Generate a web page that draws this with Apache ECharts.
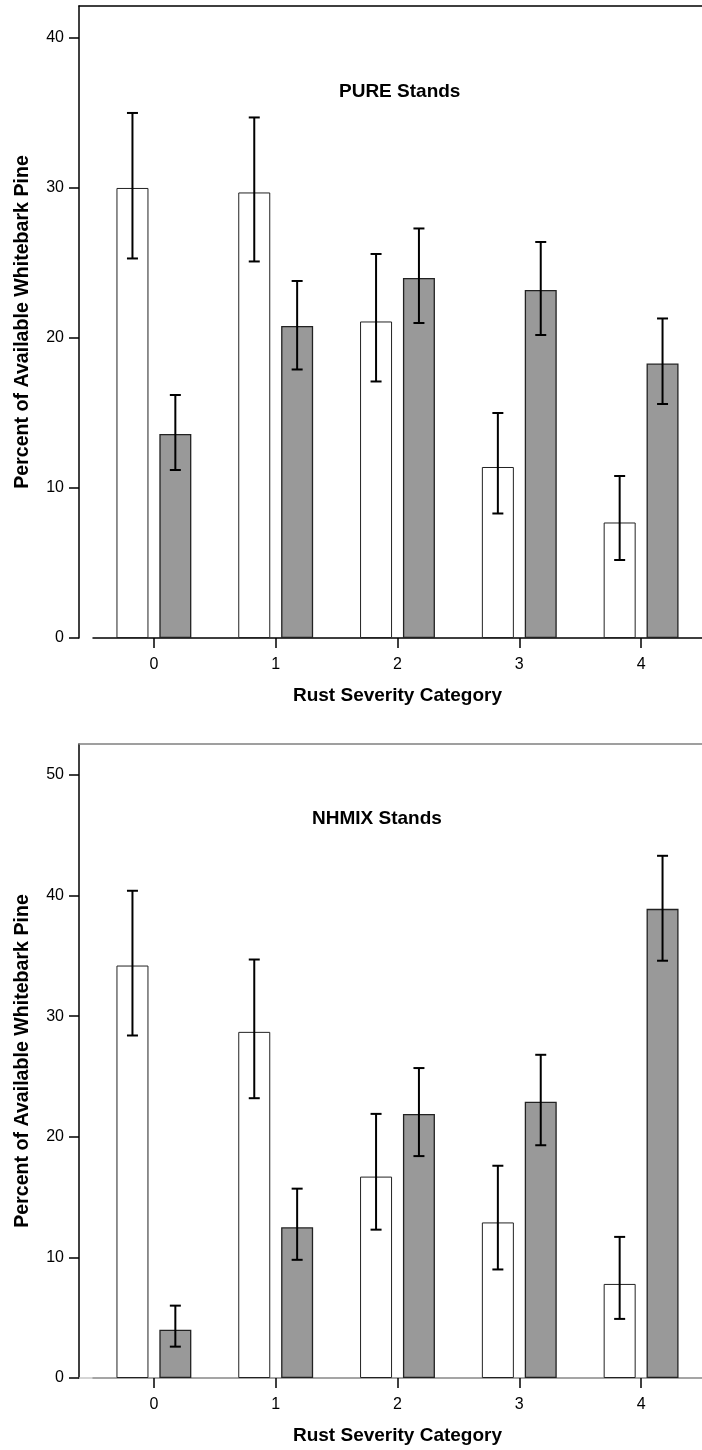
<!DOCTYPE html>
<html><head><meta charset="utf-8">
<script src="https://cdn.jsdelivr.net/npm/echarts@6/dist/echarts.min.js"></script>
<style>html,body{margin:0;padding:0;background:#fff}#c{width:702px;height:1450px}</style>
</head><body><div id="c"></div>
<script>
// ---- data ----
const categories = ['0', '1', '2', '3', '4'];
const yTicksPure = [0, 10, 20, 30, 40];
const yTicksNhmix = [0, 10, 20, 30, 40, 50];

const pureOpen       = [30.0, 29.7, 21.1, 11.4, 7.7];
const pureOpenLow    = [25.3, 25.1, 17.1, 8.3, 5.2];
const pureOpenHigh   = [35.0, 34.7, 25.6, 15.0, 10.8];
const pureShaded     = [13.6, 20.8, 24.0, 23.2, 18.3];
const pureShadedLow  = [11.2, 17.9, 21.0, 20.2, 15.6];
const pureShadedHigh = [16.2, 23.8, 27.3, 26.4, 21.3];

const nhmixOpen       = [34.2, 28.7, 16.7, 12.9, 7.8];
const nhmixOpenLow    = [28.4, 23.2, 12.3, 9.0, 4.9];
const nhmixOpenHigh   = [40.4, 34.7, 21.9, 17.6, 11.7];
const nhmixShaded     = [4.0, 12.5, 21.9, 22.9, 38.9];
const nhmixShadedLow  = [2.6, 9.8, 18.4, 19.3, 34.6];
const nhmixShadedHigh = [6.0, 15.7, 25.7, 26.8, 43.3];

// ---- styling ----
const REG = "'Liberation Sans',Arial,sans-serif";
const BAR_W = 32, BAR_GAP = 0.34;
const TITLE_STYLE = {fontFamily: REG, fontWeight: 'bold', fontSize: 19, color: '#000'};
const YNAME_STYLE = {fontFamily: REG, fontWeight: 'bold', fontSize: 19.6, color: '#000'};

function errSeries(ai, low, high, side) {
  return {
    type: 'custom', xAxisIndex: ai, yAxisIndex: ai, z: 10, silent: true,
    data: low.map((l, i) => [i, l, high[i]]),
    renderItem(params, api) {
      const off = side * BAR_W * (1 + BAR_GAP) / 2;
      const p1 = api.coord([api.value(0), api.value(1)]);
      const p2 = api.coord([api.value(0), api.value(2)]);
      const x = p1[0] + off, cw = 5.5;
      const style = {stroke: '#000', lineWidth: 2};
      return {type: 'group', children: [
        {type: 'line', shape: {x1: x, y1: p1[1], x2: x, y2: p2[1]}, style},
        {type: 'line', shape: {x1: x - cw, y1: p1[1], x2: x + cw, y2: p1[1]}, style},
        {type: 'line', shape: {x1: x - cw, y1: p2[1], x2: x + cw, y2: p2[1]}, style}
      ]};
    }
  };
}
function bars(ai, data, fill, bw) {
  return {type: 'bar', xAxisIndex: ai, yAxisIndex: ai, data, barWidth: BAR_W, barGap: (BAR_GAP * 100) + '%',
    itemStyle: {color: fill, borderColor: '#222', borderWidth: bw}, silent: true};
}
function frameY(gi, max, ticks) {
  return {type: 'value', gridIndex: gi, min: 0, max: max,
    name: 'Percent of Available Whitebark Pine', nameLocation: 'middle', nameGap: 46,
    nameTextStyle: YNAME_STYLE,
    axisLine: {show: true, lineStyle: {color: '#000', width: 1.5}},
    axisTick: {show: true, inside: false, length: 10, customValues: ticks, lineStyle: {color: '#000', width: 1.5}},
    axisLabel: {customValues: ticks, margin: 15, fontFamily: REG, fontSize: 16, color: '#000'},
    splitLine: {show: false}};
}
function dataY(gi, max) {
  return {type: 'value', gridIndex: gi, min: 0, max: max, show: false, splitLine: {show: false}};
}
function catX(gi) {
  return {type: 'category', gridIndex: gi, data: categories,
    name: 'Rust Severity Category', nameLocation: 'middle', nameGap: 48, nameTextStyle: TITLE_STYLE,
    axisLine: {show: true, lineStyle: {color: '#000', width: 1.5}},
    axisTick: {show: true, alignWithLabel: true, length: 10, lineStyle: {color: '#000', width: 1.5}},
    axisLabel: {margin: 19, fontFamily: REG, fontSize: 16, color: '#000'}};
}
function frameX(gi, pos, color) {
  return {type: 'value', gridIndex: gi, position: pos, min: 0, max: 1,
    axisLine: {show: true, onZero: false, lineStyle: {color, width: 1.5}},
    axisTick: {show: false}, axisLabel: {show: false}, splitLine: {show: false}};
}

const PURE_MAX = 42.13, NHMIX_MAX = 52.57;
const chart = echarts.init(document.getElementById('c'), null, {renderer: 'canvas'});
chart.setOption({
  animation: false,
  backgroundColor: '#fff',
  title: [
    {text: 'PURE Stands', left: 339, top: 82, padding: 0, textStyle: TITLE_STYLE},
    {text: 'NHMIX Stands', left: 312, top: 809, padding: 0, textStyle: TITLE_STYLE}
  ],
  grid: [
    {left: 79, right: 0, top: 6, height: 632},
    {left: 93, right: 0, top: 6, height: 632},
    {left: 79, right: 0, top: 744, height: 634},
    {left: 93, right: 0, top: 744, height: 634}
  ],
  xAxis: [frameX(0, 'top', '#000'), catX(1), frameX(2, 'top', '#808080'), catX(3), frameX(2, 'bottom', '#c8c8c8')],
  yAxis: [frameY(0, PURE_MAX, yTicksPure), dataY(1, PURE_MAX), frameY(2, NHMIX_MAX, yTicksNhmix), dataY(3, NHMIX_MAX)],
  series: [
    bars(1, pureOpen, '#ffffff', 1), bars(1, pureShaded, '#999999', 1.3),
    errSeries(1, pureOpenLow, pureOpenHigh, -1), errSeries(1, pureShadedLow, pureShadedHigh, 1),
    bars(3, nhmixOpen, '#ffffff', 1), bars(3, nhmixShaded, '#999999', 1.3),
    errSeries(3, nhmixOpenLow, nhmixOpenHigh, -1), errSeries(3, nhmixShadedLow, nhmixShadedHigh, 1)
  ]
});
</script></body></html>
